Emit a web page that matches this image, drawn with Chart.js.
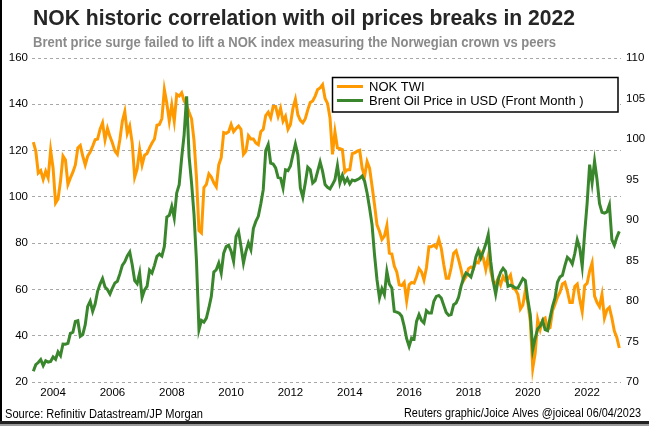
<!DOCTYPE html>
<html><head><meta charset="utf-8">
<script src="https://cdn.jsdelivr.net/npm/chart.js@4.4.1/dist/chart.umd.min.js"></script>
<style>html,body{margin:0;padding:0;background:#fff}canvas{display:block}</style>
</head><body>
<canvas id="c" width="649" height="426"></canvas>
<script>
// Monthly series, first value = May 2003
const startYear = 2003, startMonth = 5;
const nokTWI = [
99.6,98.5,95.8,96.1,95.0,96.0,95.2,98.6,
96.4,92.1,92.6,94.8,97.9,97.4,94.4,95.2,95.9,96.8,
98.9,99.2,97.9,96.8,97.9,98.4,99.1,99.9,100.0,101.2,
102.0,99.9,101.3,100.3,99.5,98.5,98.1,99.9,102.2,103.4,
100.7,101.6,99.5,95.3,96.3,98.7,96.8,98.0,98.2,98.9,
99.5,100.0,101.7,101.8,102.5,106.1,104.4,102.2,104.2,102.2,
105.5,105.3,105.7,104.7,104.2,103.3,102.5,99.8,95.2,88.7,
88.4,94.0,94.4,95.7,95.3,94.6,94.1,96.8,97.7,100.8,
100.7,100.9,101.8,100.9,101.3,101.6,101.2,98.1,98.5,100.4,
100.0,100.0,99.5,99.3,100.9,101.2,102.9,103.3,102.6,104.0,
104.0,102.8,103.8,102.2,102.8,101.2,101.8,103.8,104.9,103.0,
102.3,102.0,102.5,103.6,104.5,104.7,105.3,106.1,106.3,106.7,
105.0,104.4,102.6,98.1,100.9,98.9,98.8,98.7,95.9,96.2,
96.2,98.2,98.3,98.5,98.6,96.4,95.4,97.2,96.4,94.2,
91.9,89.4,88.6,87.6,88.0,89.3,85.9,85.8,84.3,83.6,
82.0,81.9,82.3,80.0,82.0,82.3,82.2,83.0,84.0,83.6,
82.6,84.1,86.7,86.7,86.9,86.6,87.6,86.5,84.5,82.8,
82.8,84.1,85.9,86.2,85.1,83.9,82.5,83.0,84.0,84.2,
84.0,84.8,84.7,85.9,85.3,83.9,85.5,83.7,82.4,82.1,
82.8,82.0,83.0,82.5,82.7,83.2,81.6,81.4,80.8,79.0,
79.5,81.3,79.8,77.5,71.7,73.6,77.7,76.5,77.7,77.9,
76.5,76.7,78.8,79.6,80.5,81.1,82.1,82.3,81.2,79.8,
79.8,81.8,82.1,80.2,78.7,81.9,82.2,83.7,84.7,80.6,
79.8,79.3,80.8,77.9,78.9,79.2,77.9,76.3,75.5,74.2
];
const brentUSD = [
24.6,27.5,28.4,29.7,27.1,29.2,28.6,28.9,
30.8,29.8,33.0,31.4,36.4,36.3,36.7,41.0,41.5,46.2,
46.5,39.7,40.5,44.8,52.7,54.9,50.5,53.7,59.2,62.3,
64.7,61.1,59.9,58.0,60.6,62.8,63.5,66.7,70.4,71.9,
74.5,76.2,70.7,63.8,62.5,67.1,56.6,59.8,61.3,68.3,
67.1,70.4,74.3,75.3,74.4,78.6,91.3,92.0,95.9,90.9,
101.7,105.3,116.8,126.9,143.4,117.5,106.0,92.3,72.1,42.6,
46.6,45.9,47.6,52.0,57.0,67.5,68.5,71.4,67.1,75.7,
78.5,79.1,76.5,72.1,82.9,85.1,78.6,71.4,76.5,80.1,
77.2,86.3,89.4,91.6,96.9,103.1,120.0,122.6,114.6,114.2,
112.5,108.4,108.1,103.8,111.7,111.3,113.3,118.2,122.8,118.2,
103.8,99.8,106.0,112.8,111.7,106.0,107.0,111.0,115.1,111.0,
105.3,104.1,103.4,105.3,107.4,113.5,106.0,109.3,106.1,107.9,
105.6,107.3,106.9,107.4,108.0,109.0,106.7,101.7,95.2,88.0,
75.0,64.2,56.3,60.3,57.7,67.8,62.3,60.6,50.5,50.2,
49.7,48.4,44.1,38.7,35.4,39.0,38.6,46.2,49.1,46.6,
45.5,50.8,49.8,49.8,54.9,57.0,57.4,56.3,53.1,50.0,
48.8,49.1,53.4,54.1,56.6,61.3,64.9,67.1,66.4,65.4,
69.0,74.0,76.9,73.6,76.5,79.6,83.7,72.1,63.5,58.0,
64.2,67.5,69.1,67.8,61.3,61.8,61.3,60.6,60.6,62.6,
64.7,63.8,55.6,49.1,34.0,39.0,43.0,44.1,46.5,42.6,
42.2,47.7,52.7,56.3,63.1,65.4,66.1,70.3,73.9,72.9,
71.0,75.5,81.4,77.9,70.0,84.4,97.3,113.9,106.0,115.4,
107.4,97.1,93.3,93.0,93.5,96.6,81.5,79.1,82.5,85.1
];
const xTickYears = [2004,2006,2008,2010,2012,2014,2016,2018,2020,2022];
const leftTicks = [20,40,60,80,100,120,140,160];
const rightTicks = [70,75,80,85,90,95,100,105,110];
const seriesLabels = ['NOK TWI','Brent Oil Price in USD (Front Month )'];
const titleText = 'NOK historic correlation with oil prices breaks in 2022';
const subtitleText = 'Brent price surge failed to lift a NOK index measuring the Norwegian crown vs peers';
const sourceText = 'Source: Refinitiv Datastream/JP Morgan';
const creditText = 'Reuters graphic/Joice Alves @joiceal 06/04/2023';

const ORANGE = '#ff9900', GREEN = '#3a862c';
const FONT = "'Liberation Sans', Arial, sans-serif";
const toX = i => startYear + (startMonth - 1 + i) / 12;
const nokPts = nokTWI.map((v,i)=>({x:toX(i), y:v}));
const brentPts = brentUSD.map((v,i)=>({x:toX(i), y:v}));

function fitText(ctx, text, x, y, w, font, color, align){
  ctx.save();
  ctx.font = font; ctx.fillStyle = color; ctx.textBaseline = 'alphabetic';
  const nat = ctx.measureText(text).width;
  const s = w / nat;
  ctx.translate(x, y); ctx.scale(s, 1);
  ctx.textAlign = align || 'left';
  ctx.fillText(text, 0, 0);
  ctx.restore();
}

const decor = {
  id:'decor',
  afterDraw(chart){
    const ctx = chart.ctx;
    fitText(ctx, titleText, 33, 25, 542, 'bold 22px '+FONT, '#262626');
    fitText(ctx, subtitleText, 33, 47, 523, 'bold 14px '+FONT, '#8a8a8a');
    fitText(ctx, sourceText, 5, 418, 198, '12px '+FONT, '#000');
    fitText(ctx, creditText, 641, 417, 237, '12px '+FONT, '#000', 'right');
    // legend box
    ctx.save();
    ctx.fillStyle = '#fff';
    ctx.fillRect(332, 77, 286, 35);
    ctx.strokeStyle = '#000'; ctx.lineWidth = 1.5;
    ctx.strokeRect(332.5, 77.5, 285.5, 34.5);
    const rows = [[seriesLabels[0], ORANGE, 86.5],[seriesLabels[1], GREEN, 100.5]];
    rows.forEach(r=>{
      ctx.strokeStyle = r[1]; ctx.lineWidth = 3;
      ctx.beginPath(); ctx.moveTo(337, r[2]); ctx.lineTo(363, r[2]); ctx.stroke();
      ctx.fillStyle = '#000'; ctx.font = '13px '+FONT; ctx.textBaseline='middle'; ctx.textAlign='left';
      ctx.fillText(r[0], 369, r[2]+0.5);
    });
    ctx.restore();
    // frame
    ctx.save();
    ctx.fillStyle = '#000';
    ctx.fillRect(0, 0, 2, 426);
    ctx.fillStyle = '#222';
    ctx.fillRect(0, 421, 649, 3);
    ctx.fillStyle = '#9a9a9a';
    ctx.fillRect(0, 424, 649, 2);
    ctx.restore();
  }
};

new Chart(document.getElementById('c'), {
  type:'line',
  data:{ datasets:[
    {label:seriesLabels[0], data:nokPts, yAxisID:'y2', borderColor:ORANGE, borderWidth:3, pointRadius:0, tension:0, order:2},
    {label:seriesLabels[1], data:brentPts, yAxisID:'y', borderColor:GREEN, borderWidth:3, pointRadius:0, tension:0, order:1}
  ]},
  options:{
    responsive:false, animation:false, devicePixelRatio:1,
    layout:{padding:{left:0,right:0,top:58,bottom:24}},
    plugins:{legend:{display:false}, tooltip:{enabled:false}, title:{display:false}},
    scales:{
      x:{type:'linear', min:2003.289, max:2023.141,
        grid:{display:false, drawTicks:false}, border:{display:false},
        afterBuildTicks(s){ s.ticks = xTickYears.map(v=>({value:v})); },
        afterFit(s){ s.height = 20; },
        ticks:{padding:4, color:'#000', font:{family:FONT,size:11.5}, callback:v=>String(v), maxRotation:0, autoSkip:false}
      },
      y:{position:'left', min:20, max:160,
        afterBuildTicks(s){ s.ticks = leftTicks.map(v=>({value:v})); },
        afterFit(s){ s.width = 32; },
        grid:{color:'#a8a8a8', lineWidth:1, drawTicks:false},
        border:{display:false, dash:[3,3]},
        ticks:{padding:4, color:'#000', font:{family:FONT,size:11.5}}
      },
      y2:{position:'right', min:70, max:110,
        afterBuildTicks(s){ s.ticks = rightTicks.map(v=>({value:v})); },
        afterFit(s){ s.width = 28; },
        grid:{display:false, drawTicks:false}, border:{display:false},
        ticks:{padding:5, color:'#000', font:{family:FONT,size:11.5}}
      }
    }
  },
  plugins:[decor]
});
</script>
</body></html>
